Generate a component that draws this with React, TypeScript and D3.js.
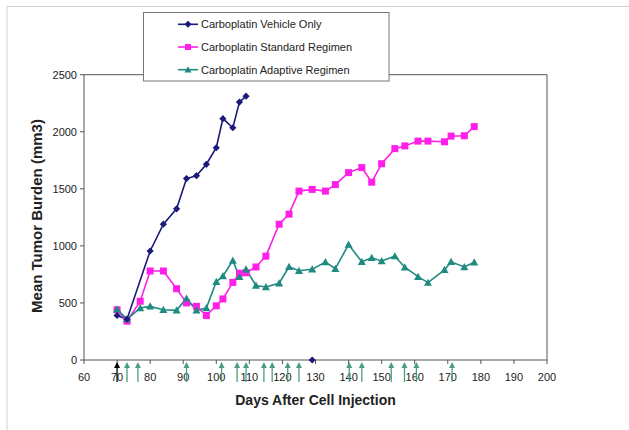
import React from "react";
import * as d3 from "d3";

const vehicleDays = [70, 73, 80, 84, 88, 91, 94, 97, 100, 102, 105, 107, 109];
const vehicleValues = [390, 358, 955, 1190, 1325, 1590, 1615, 1715, 1860, 2115, 2035, 2260, 2312];
const vehicleExtraDays = [129];
const vehicleExtraValues = [0];

const standardDays = [70, 73, 77, 80, 84, 88, 91, 94, 97, 100, 102, 105, 107, 109, 112, 115, 119, 122, 125, 129, 133, 136, 140, 144, 147, 150, 154, 157, 161, 164, 169, 171, 175, 178];
const standardValues = [440, 340, 515, 780, 780, 625, 500, 470, 390, 475, 535, 680, 760, 765, 815, 910, 1190, 1278, 1480, 1495, 1480, 1537, 1642, 1686, 1558, 1720, 1852, 1876, 1918, 1918, 1912, 1962, 1965, 2045];

const adaptiveDays = [70, 73, 77, 80, 84, 88, 91, 94, 97, 100, 102, 105, 107, 109, 112, 115, 119, 122, 125, 129, 133, 136, 140, 144, 147, 150, 154, 157, 161, 164, 169, 171, 175, 178];
const adaptiveValues = [445, 358, 455, 470, 440, 435, 540, 435, 455, 685, 735, 872, 728, 795, 652, 640, 673, 817, 782, 795, 858, 800, 1012, 860, 896, 868, 910, 813, 730, 678, 790, 860, 815, 856];

const doseDays = [73, 76.3, 91, 101.6, 106.3, 109, 114.4, 116.9, 121.6, 125, 140.2, 144, 152.9, 156.9, 160.5, 171.3];
const startDays = [70];

const xTicks = [60, 70, 80, 90, 100, 110, 120, 130, 140, 150, 160, 170, 180, 190, 200];
const yTicks = [0, 500, 1000, 1500, 2000, 2500];

const legendLabels = ["Carboplatin Vehicle Only", "Carboplatin Standard Regimen", "Carboplatin Adaptive Regimen"];

const NAVY = "#1a1a7a";
const MAGENTA = "#ff1fe8";
const TEAL = "#1f8a80";
const ARROW = "#4a9e7e";
const FONT = "'Liberation Sans', Arial, sans-serif";

const L = 84, R = 547, T = 74.7, B = 360;

function Diamond({ x, y, s = 4, color }: { x: number; y: number; s?: number; color: string }) {
  return <path d={`M${x},${y - s}L${x + s},${y}L${x},${y + s}L${x - s},${y}Z`} fill={color} />;
}
function Square({ x, y, s = 3.5, color }: { x: number; y: number; s?: number; color: string }) {
  return <rect x={x - s} y={y - s} width={2 * s} height={2 * s} fill={color} />;
}
function Tri({ x, y, s = 4, color }: { x: number; y: number; s?: number; color: string }) {
  return <path d={`M${x},${y - s}L${x + s},${y + s * 0.8}L${x - s},${y + s * 0.8}Z`} fill={color} />;
}

export default function App() {
  const x = d3.scaleLinear().domain([60, 200]).range([L, R]);
  const y = d3.scaleLinear().domain([0, 2500]).range([B, T]);
  const line = d3.line<[number, number]>().x((d) => x(d[0])).y((d) => y(d[1]));
  const veh = vehicleDays.map((d, i) => [d, vehicleValues[i]] as [number, number]);
  const std = standardDays.map((d, i) => [d, standardValues[i]] as [number, number]);
  const ada = adaptiveDays.map((d, i) => [d, adaptiveValues[i]] as [number, number]);

  const arrow = (d: number, color: string, key: string) => {
    const ax = x(d);
    const top = B + 2;
    return (
      <g key={key}>
        <line x1={ax} x2={ax} y1={top + 4} y2={top + 20} stroke={color} strokeWidth={1.3} />
        <path d={`M${ax},${top}L${ax + 3},${top + 6}L${ax - 3},${top + 6}Z`} fill={color} />
      </g>
    );
  };

  const legendX = 143.5, legendY = 12.5, legendW = 245.5, legendH = 68.5;
  const rowsY = [24.3, 47, 69.7];

  return (
    <svg width={629} height={430} style={{ position: "absolute", left: 0, top: 0, background: "#fff" }} fontFamily={FONT}>
      <rect x={0} y={0} width={629} height={430} fill="#fff" />
      <path d={`M7,430V6.5H629`} fill="none" stroke="#cfcfcf" strokeWidth={1} />
      {/* plot frame */}
      <path d={`M${L},${B}V${T}H${R}V${B}`} fill="none" stroke="#555" strokeWidth={1} />
      <line x1={L} x2={R} y1={B} y2={B} stroke="#555" strokeWidth={1} />
      {/* y ticks */}
      {yTicks.map((t) => (
        <g key={"y" + t}>
          <line x1={L - 4} x2={L} y1={y(t)} y2={y(t)} stroke="#555" />
          <text x={L - 7} y={y(t)} dy="0.35em" textAnchor="end" fontSize={11} fill="#222">{t}</text>
        </g>
      ))}
      {/* x ticks */}
      {xTicks.map((t) => (
        <g key={"x" + t}>
          <line x1={x(t)} x2={x(t)} y1={B} y2={B + 4} stroke="#555" />
          <text x={x(t)} y={B + 17} dy="0.35em" textAnchor="middle" fontSize={11} fill="#222">{t}</text>
        </g>
      ))}
      {/* arrows */}
      {startDays.map((d, i) => arrow(d, "#000", "s" + i))}
      {doseDays.map((d, i) => arrow(d, ARROW, "a" + i))}
      {/* series */}
      <path d={line(veh) || ""} fill="none" stroke={NAVY} strokeWidth={1.6} />
      <path d={line(std) || ""} fill="none" stroke={MAGENTA} strokeWidth={1.6} />
      <path d={line(ada) || ""} fill="none" stroke={TEAL} strokeWidth={1.6} />
      {std.map((d, i) => <Square key={"sq" + i} x={x(d[0])} y={y(d[1])} color={MAGENTA} />)}
      {ada.map((d, i) => <Tri key={"tr" + i} x={x(d[0])} y={y(d[1])} color={TEAL} />)}
      {veh.map((d, i) => <Diamond key={"dm" + i} x={x(d[0])} y={y(d[1])} s={3.6} color={NAVY} />)}
      {vehicleExtraDays.map((d, i) => <Diamond key={"dx" + i} x={x(d)} y={y(vehicleExtraValues[i])} s={3.6} color={NAVY} />)}
      {/* axis titles */}
      <text x={(L + R) / 2} y={400} dy="0.35em" textAnchor="middle" fontSize={14} fontWeight="bold" fill="#222">Days After Cell Injection</text>
      <text transform={`translate(37,216) rotate(-90)`} textAnchor="middle" dy="0.35em" fontSize={15} fontWeight="bold" fill="#222">Mean Tumor Burden (mm3)</text>
      {/* legend */}
      <rect x={legendX} y={legendY} width={legendW} height={legendH} fill="#fff" stroke="#777" strokeWidth={1} />
      {legendLabels.map((lab, i) => {
        const ly = rowsY[i];
        const color = [NAVY, MAGENTA, TEAL][i];
        return (
          <g key={lab}>
            <line x1={178} x2={198} y1={ly} y2={ly} stroke={color} strokeWidth={1.6} />
            {i === 0 && <Diamond x={188} y={ly} color={color} s={3.5} />}
            {i === 1 && <Square x={188} y={ly} color={color} s={3} />}
            {i === 2 && <Tri x={188} y={ly} color={color} s={3.5} />}
            <text x={201} y={ly} dy="0.35em" fontSize={11} fill="#222">{lab}</text>
          </g>
        );
      })}
    </svg>
  );
}
